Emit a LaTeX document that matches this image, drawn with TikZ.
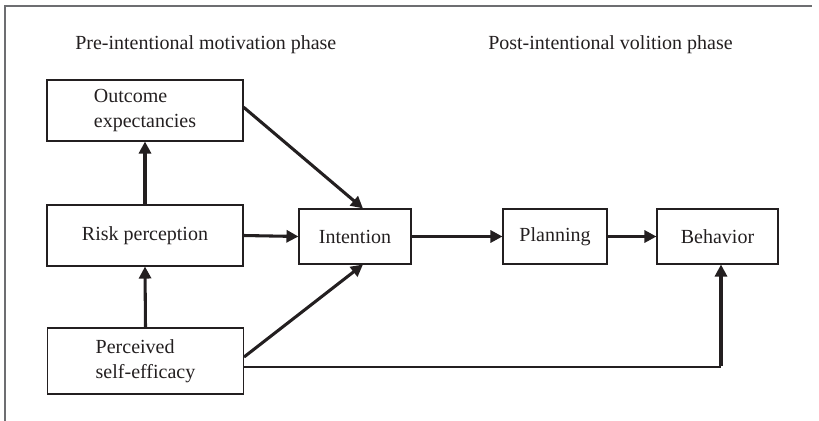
\documentclass[tikz,border=0pt]{standalone}
\usepackage{fontspec}
\setmainfont{Liberation Serif}
\usetikzlibrary{arrows.meta,positioning}
\definecolor{ink}{HTML}{231F20}
\definecolor{framegray}{HTML}{6D6E71}
\tikzset{
  box/.style={draw=ink, line width=0.8pt, text=ink, font=\fontsize{15}{19}\selectfont, inner sep=0pt},
  arr/.style={draw=ink, line width=2.3pt, -{Triangle[length=9pt,width=9pt]}},
  thinline/.style={draw=ink, line width=1.3pt},
  header/.style={text=ink, font=\fontsize{15}{18}\selectfont, inner sep=0pt, anchor=base west}
}
\begin{document}
\begin{tikzpicture}[x=0.75pt,y=-0.75pt]
\useasboundingbox (0,0) rectangle (819,421);
% frame (left and top only)
\draw[framegray, line width=1.5pt] (5,421) -- (5,6) -- (812,6);
% headers
\node[header] (hpre) at (75,50) {Pre-intentional motivation phase};
\node[header] (hpost) at (488,50) {Post-intentional volition phase};
% boxes
\node[box, minimum width=147pt, minimum height=45.75pt, align=left] (outcome) at (145,110.5) {Outcome\\expectancies};
\node[box, minimum width=147pt, minimum height=45.75pt] (risk) at (145,235.5) {Risk perception};
\node[box, minimum width=147pt, minimum height=49.5pt, align=left] (eff) at (145.5,361) {Perceived\\self-efficacy};
\node[box, minimum width=84pt, minimum height=41.25pt] (intention) at (355,236.5) {Intention};
\node[box, minimum width=78pt, minimum height=41.25pt] (planning) at (555,236.5) {Planning};
\node[box, minimum width=90.75pt, minimum height=41.25pt] (behavior) at (717.5,236.5) {Behavior};
% connectors
\draw[arr] (risk.north) -- (outcome.south);
\draw[arr] (eff.north) -- (risk.south);
\draw[arr] ([yshift=2.5pt]outcome.east) -- ([xshift=6pt]intention.north);
\draw[arr] (risk.east) -- (intention.west);
\draw[arr] ([yshift=3pt]eff.east) -- ([xshift=6pt]intention.south);
\draw[arr] (intention.east) -- (planning.west);
\draw[arr] (planning.east) -- (behavior.west);
\coordinate (corner) at (721,367);
\draw[thinline] ([yshift=-4.5pt]eff.east) -- (corner);
\draw[arr] ([yshift=0.65pt]corner) -- (corner |- behavior.south);
\end{tikzpicture}
\end{document}
